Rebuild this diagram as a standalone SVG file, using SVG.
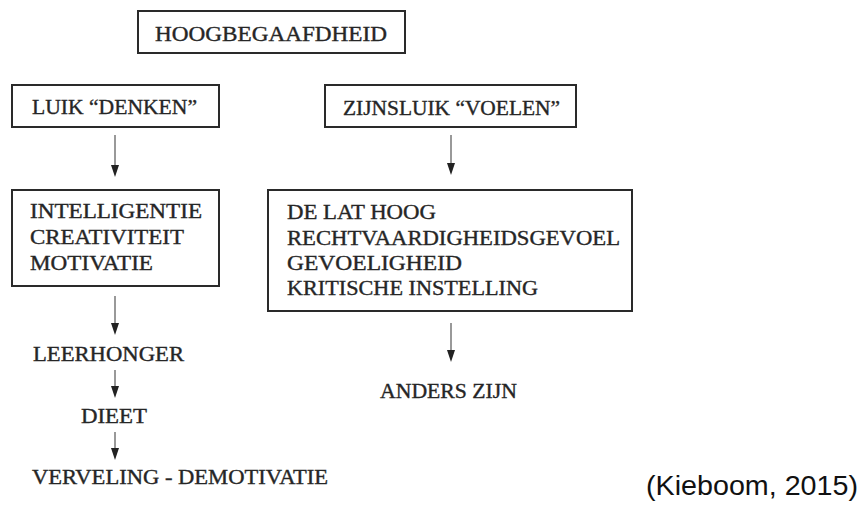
<svg xmlns="http://www.w3.org/2000/svg" width="863" height="509" viewBox="0 0 863 509">
<style>
.box{fill:#fff;stroke:#2a2a2a;stroke-width:2}
.t{font-family:"Liberation Serif","Times New Roman",serif;font-size:20px;fill:#262626;stroke:#262626;stroke-width:0.35}
.c{font-family:"Liberation Sans",Arial,sans-serif;font-size:28px;fill:#111}
.ln{stroke:#555;stroke-width:1.2}
.hd{fill:#222}
</style>
<rect width="863" height="509" fill="#fff"/>
<g id="connectors">
<line class="ln" x1="115" y1="135" x2="115" y2="170"/>
<polygon class="hd" points="111,165 119,165 115,177"/>
<line class="ln" x1="451" y1="135" x2="451" y2="168"/>
<polygon class="hd" points="447,163 455,163 451,175"/>
<line class="ln" x1="115" y1="296" x2="115" y2="328"/>
<polygon class="hd" points="111,323 119,323 115,335"/>
<line class="ln" x1="115" y1="370" x2="115" y2="391"/>
<polygon class="hd" points="111,386 119,386 115,398"/>
<line class="ln" x1="115" y1="432" x2="115" y2="453"/>
<polygon class="hd" points="111,448 119,448 115,460"/>
<line class="ln" x1="451" y1="323" x2="451" y2="355"/>
<polygon class="hd" points="447,350 455,350 451,362"/>
</g>
<g id="hoogbegaafdheid">
<rect class="box" x="138" y="11" width="267" height="42"/>
<text class="t" x="155" y="41" textLength="232" lengthAdjust="spacingAndGlyphs">HOOGBEGAAFDHEID</text>
</g>
<g id="luik-denken">
<rect class="box" x="12" y="85" width="207" height="42"/>
<text class="t" x="32" y="114" textLength="165" lengthAdjust="spacingAndGlyphs">LUIK “DENKEN”</text>
</g>
<g id="zijnsluik-voelen">
<rect class="box" x="325" y="85" width="251" height="42"/>
<text class="t" x="343" y="115" textLength="217" lengthAdjust="spacingAndGlyphs">ZIJNSLUIK “VOELEN”</text>
</g>
<g id="denken-items">
<rect class="box" x="12" y="190" width="207" height="96"/>
<text class="t" x="30" y="217.5" textLength="172" lengthAdjust="spacingAndGlyphs">INTELLIGENTIE</text>
<text class="t" x="30" y="244" textLength="154" lengthAdjust="spacingAndGlyphs">CREATIVITEIT</text>
<text class="t" x="30" y="270" textLength="123" lengthAdjust="spacingAndGlyphs">MOTIVATIE</text>
</g>
<g id="voelen-items">
<rect class="box" x="268" y="190" width="364" height="121"/>
<text class="t" x="287" y="218.5" textLength="149" lengthAdjust="spacingAndGlyphs">DE LAT HOOG</text>
<text class="t" x="287" y="244.5" textLength="333" lengthAdjust="spacingAndGlyphs">RECHTVAARDIGHEIDSGEVOEL</text>
<text class="t" x="287" y="270" textLength="175" lengthAdjust="spacingAndGlyphs">GEVOELIGHEID</text>
<text class="t" x="287" y="295" textLength="251" lengthAdjust="spacingAndGlyphs">KRITISCHE INSTELLING</text>
</g>
<g id="leerhonger">
<text class="t" x="33" y="361" textLength="151" lengthAdjust="spacingAndGlyphs">LEERHONGER</text>
</g>
<g id="dieet">
<text class="t" x="81" y="423" textLength="66" lengthAdjust="spacingAndGlyphs">DIEET</text>
</g>
<g id="verveling">
<text class="t" x="32" y="484" textLength="296" lengthAdjust="spacingAndGlyphs">VERVELING - DEMOTIVATIE</text>
</g>
<g id="anders-zijn">
<text class="t" x="380" y="398" textLength="137" lengthAdjust="spacingAndGlyphs">ANDERS ZIJN</text>
</g>
<g id="citation">
<text class="c" x="646" y="495" textLength="212" lengthAdjust="spacingAndGlyphs">(Kieboom, 2015)</text>
</g>
</svg>
